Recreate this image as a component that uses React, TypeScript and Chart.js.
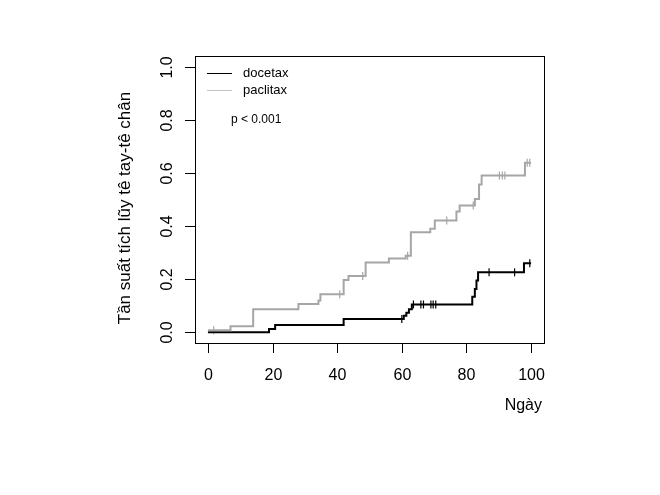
import React, { useEffect, useRef } from "react";
import { Chart, registerables } from "chart.js";

Chart.register(...registerables);

// Cumulative incidence step curves (day, cumulative incidence)
const docetaxDays = [0, 18.9, 20.8, 42, 60.6, 61.4, 62.2, 63.1, 81.8, 82.6, 83.1, 83.6, 97.8, 100];
const docetaxValues = [0, 0.0125, 0.028, 0.05, 0.063, 0.074, 0.087, 0.105, 0.134, 0.163, 0.195, 0.226, 0.26, 0.26];
const paclitaxDays = [0, 7, 14, 28, 34.2, 34.8, 42, 43.5, 48.8, 56, 61.2, 62.8, 68.8, 70.2, 76.9, 77.9, 82.6, 83.9, 84.7, 98.1, 100];
const paclitaxValues = [0.008, 0.023, 0.087, 0.107, 0.12, 0.143, 0.197, 0.212, 0.263, 0.278, 0.288, 0.377, 0.39, 0.421, 0.455, 0.477, 0.502, 0.556, 0.59, 0.638, 0.638];

// Censoring marks
const docetaxCensorDays = [60.0, 63.6, 65.9, 66.7, 69.0, 69.7, 70.5, 87.0, 94.9, 99.6];
const docetaxCensorValues = [0.05, 0.105, 0.105, 0.105, 0.105, 0.105, 0.105, 0.226, 0.226, 0.26];
const paclitaxCensorDays = [1.8, 40.8, 47.9, 61.8, 73.9, 82.1, 90.2, 91.1, 91.9, 98.8, 99.6];
const paclitaxCensorValues = [0.008, 0.143, 0.212, 0.288, 0.421, 0.477, 0.59, 0.59, 0.59, 0.638, 0.638];

const xTicks = [0, 20, 40, 60, 80, 100];
const yTicks = [0, 0.2, 0.4, 0.6, 0.8, 1.0];
const yTickLabels = ["0.0", "0.2", "0.4", "0.6", "0.8", "1.0"];
const seriesNames = ["docetax", "paclitax"];
const xTitle = "Ngày";
const yTitle = "Tần suất tích lũy tê tay-tê chân";
const pText = "p < 0.001";

const BLACK = "#000000";
const GRAY = "#a6a6a6";
const LEGEND_GRAY = "#c4c4c4";
const FONT = "'Liberation Sans', Arial, Helvetica, sans-serif";

const toPts = (xs: number[], ys: number[]) => xs.map((x, i) => ({ x, y: ys[i] }));

export default function App() {
  const ref = useRef<HTMLCanvasElement | null>(null);

  useEffect(() => {
    if (!ref.current) return;
    const rPlot = {
      id: "rPlot",
      afterDraw(chart: any) {
        const { ctx, chartArea: a, scales } = chart;
        const xs = scales.x;
        const ys = scales.y;
        ctx.save();
        // box
        ctx.strokeStyle = "#000";
        ctx.lineWidth = 1;
        ctx.strokeRect(Math.round(a.left) + 0.5, Math.round(a.top) + 0.5, Math.round(a.right - a.left), Math.round(a.bottom - a.top));
        // x ticks
        ctx.fillStyle = "#000";
        ctx.font = `16px ${FONT}`;
        ctx.textAlign = "center";
        ctx.textBaseline = "middle";
        xTicks.forEach((t) => {
          const px = Math.round(xs.getPixelForValue(t)) + 0.5;
          ctx.beginPath();
          ctx.moveTo(px, a.bottom);
          ctx.lineTo(px, a.bottom + 10);
          ctx.stroke();
          ctx.fillText(String(t), px, a.bottom + 33);
        });
        // y ticks
        yTicks.forEach((t, i) => {
          const py = Math.round(ys.getPixelForValue(t)) + 0.5;
          ctx.beginPath();
          ctx.moveTo(a.left, py);
          ctx.lineTo(a.left - 10, py);
          ctx.stroke();
          ctx.save();
          ctx.translate(a.left - 27, py);
          ctx.rotate(-Math.PI / 2);
          ctx.fillText(yTickLabels[i], 0, 0);
          ctx.restore();
        });
        // axis titles
        ctx.textAlign = "right";
        ctx.fillText(xTitle, a.right - 2, a.bottom + 63);
        ctx.save();
        ctx.font = `17px ${FONT}`;
        ctx.translate(a.left - 70, 208);
        ctx.rotate(-Math.PI / 2);
        ctx.textAlign = "center";
        ctx.fillText(yTitle, 0, 0);
        ctx.restore();
        // legend
        ctx.font = `13px ${FONT}`;
        ctx.textAlign = "left";
        const colors = [BLACK, LEGEND_GRAY];
        seriesNames.forEach((n, i) => {
          const y = a.top + 17 + i * 17;
          ctx.strokeStyle = colors[i];
          ctx.lineWidth = 1;
          ctx.beginPath();
          ctx.moveTo(a.left + 12, y + 0.5);
          ctx.lineTo(a.left + 37, y + 0.5);
          ctx.stroke();
          ctx.fillStyle = "#000";
          ctx.fillText(n, a.left + 48, y);
        });
        ctx.font = `12px ${FONT}`;
        ctx.fillText(pText, a.left + 36, a.top + 64);
        ctx.restore();
      },
    };

    const chart = new Chart(ref.current, {
      type: "line",
      data: {
        datasets: [
          {
            label: seriesNames[1],
            data: toPts(paclitaxDays, paclitaxValues),
            borderColor: GRAY,
            borderWidth: 2,
            stepped: true,
            pointRadius: 0,
            fill: false,
          },
          {
            label: seriesNames[0],
            data: toPts(docetaxDays, docetaxValues),
            borderColor: BLACK,
            borderWidth: 2,
            stepped: true,
            pointRadius: 0,
            fill: false,
          },
          {
            label: "pc",
            data: toPts(paclitaxCensorDays, paclitaxCensorValues),
            showLine: false,
            pointStyle: "line",
            pointRotation: 90,
            pointRadius: 4,
            borderColor: GRAY,
            backgroundColor: GRAY,
            pointBorderWidth: 1.2,
          },
          {
            label: "dc",
            data: toPts(docetaxCensorDays, docetaxCensorValues),
            showLine: false,
            pointStyle: "line",
            pointRotation: 90,
            pointRadius: 4,
            borderColor: BLACK,
            backgroundColor: BLACK,
            pointBorderWidth: 1.2,
          },
        ],
      },
      options: {
        animation: false,
        responsive: false,
        devicePixelRatio: 1,
        layout: { padding: { left: 195, right: 116, top: 56, bottom: 152 } },
        plugins: { legend: { display: false }, tooltip: { enabled: false } },
        scales: {
          x: { type: "linear", min: -4, max: 104, display: false },
          y: { type: "linear", min: -0.04, max: 1.04, display: false },
        },
      },
      plugins: [rPlot],
    } as any);
    return () => chart.destroy();
  }, []);

  return (
    <div style={{ position: "absolute", left: 0, top: 0, width: 660, height: 495, background: "#fff" }}>
      <canvas ref={ref} width={660} height={495} style={{ width: 660, height: 495 }} />
    </div>
  );
}
